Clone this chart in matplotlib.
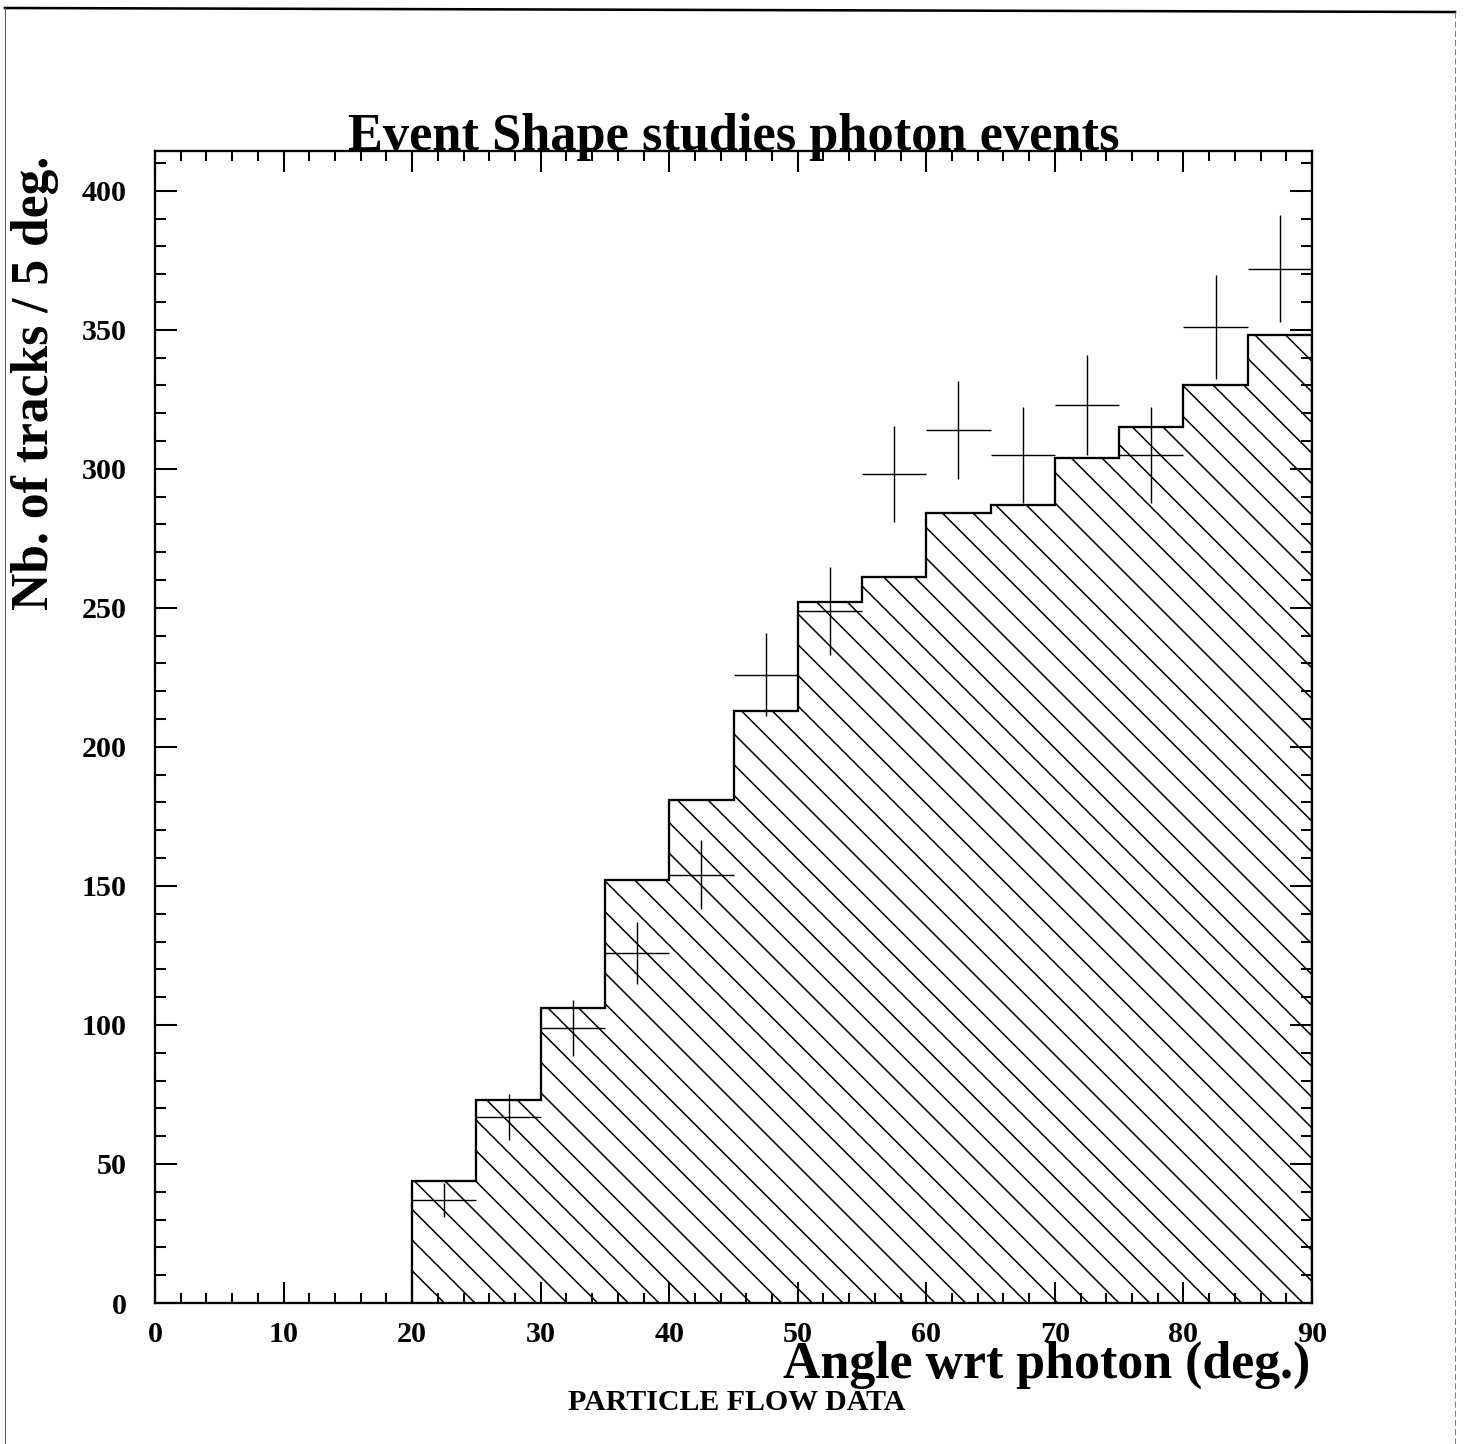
import numpy as np
import matplotlib.pyplot as plt
from matplotlib.lines import Line2D
from matplotlib.ticker import MultipleLocator

# Angular binning (5 deg. bins starting at 20 deg.)
bin_edges = [20, 25, 30, 35, 40, 45, 50, 55, 60, 65, 70, 75, 80, 85, 90]
bin_centers = [22.5, 27.5, 32.5, 37.5, 42.5, 47.5, 52.5, 57.5,
               62.5, 67.5, 72.5, 77.5, 82.5, 87.5]

# Monte Carlo expectation (hatched histogram)
mc_counts = [44, 73, 106, 152, 181, 213, 252, 261, 284, 287, 304, 315, 330, 348]

# Data points with statistical errors
data_counts = [37, 67, 99, 126, 154, 226, 249, 298, 314, 305, 323, 305, 351, 372]
data_errors = [6.1, 8.2, 10.0, 11.2, 12.4, 15.0, 15.8, 17.3, 17.7, 17.4,
               18.0, 17.4, 18.7, 19.3]

W, H, DPI = 1465, 1444, 184

plt.rcParams['font.family'] = ['Liberation Serif', 'DejaVu Serif']
plt.rcParams['font.weight'] = 'bold'
plt.rcParams['hatch.linewidth'] = 0.6

fig = plt.figure(figsize=(W / DPI, H / DPI), dpi=DPI)
ax = fig.add_axes([155 / W, 1 - 1303 / H, (1312 - 155) / W, (1303 - 151) / H])

# hatched MC histogram
ax.stairs(mc_counts, bin_edges, fill=True, facecolor='none', edgecolor='black',
          hatch='\\\\', linewidth=0.9)

# data crosses
ax.errorbar(bin_centers, data_counts, xerr=2.5, yerr=data_errors, fmt='none',
            ecolor='black', elinewidth=0.55, capsize=0)

ax.set_xlim(0, 90)
ax.set_ylim(0, 414.3)

ax.xaxis.set_major_locator(MultipleLocator(10))
ax.xaxis.set_minor_locator(MultipleLocator(2))
ax.yaxis.set_major_locator(MultipleLocator(50))
ax.yaxis.set_minor_locator(MultipleLocator(10))

ax.tick_params(which='both', direction='in', top=True, right=True, width=0.8,
               labelsize=11.8)
ax.tick_params(axis='x', which='major', length=8.2, pad=7)
ax.tick_params(axis='x', which='minor', length=3.8)
ax.tick_params(axis='y', which='major', length=8.6, pad=11)
ax.tick_params(axis='y', which='minor', length=4.3)
for lab in ax.get_xticklabels() + ax.get_yticklabels():
    lab.set_fontweight('bold')

for sp in ax.spines.values():
    sp.set_linewidth(0.9)

fig.text(733.5 / W, 1 - 150 / H, 'Event Shape studies photon events',
         ha='center', va='baseline', fontsize=20.5, fontweight='bold')
fig.text(35 / W, 1 - 383 / H, 'Nb. of tracks / 5 deg.', rotation=90,
         ha='center', va='center', fontsize=20.2, fontweight='bold')
fig.text(1310 / W, 1 - 1378 / H, 'Angle wrt photon (deg.)', ha='right',
         va='baseline', fontsize=20.3, fontweight='bold')
fig.text(737 / W, 1 - 1410 / H, 'PARTICLE FLOW DATA', ha='center',
         va='baseline', fontsize=11.7, fontweight='bold')

# page frame
fig.add_artist(Line2D([5 / W, 1455 / W], [1 - 8 / H, 1 - 12 / H],
                      transform=fig.transFigure, color='black', lw=1.0))
fig.add_artist(Line2D([5 / W, 5 / W], [0, 1 - 8 / H],
                      transform=fig.transFigure, color='0.35', lw=0.4))
fig.add_artist(Line2D([1455 / W, 1455 / W], [0, 1 - 12 / H],
                      transform=fig.transFigure, color='0.5', lw=0.4,
                      ls=(0, (6, 3))))

fig.savefig('out.png', dpi=DPI)
